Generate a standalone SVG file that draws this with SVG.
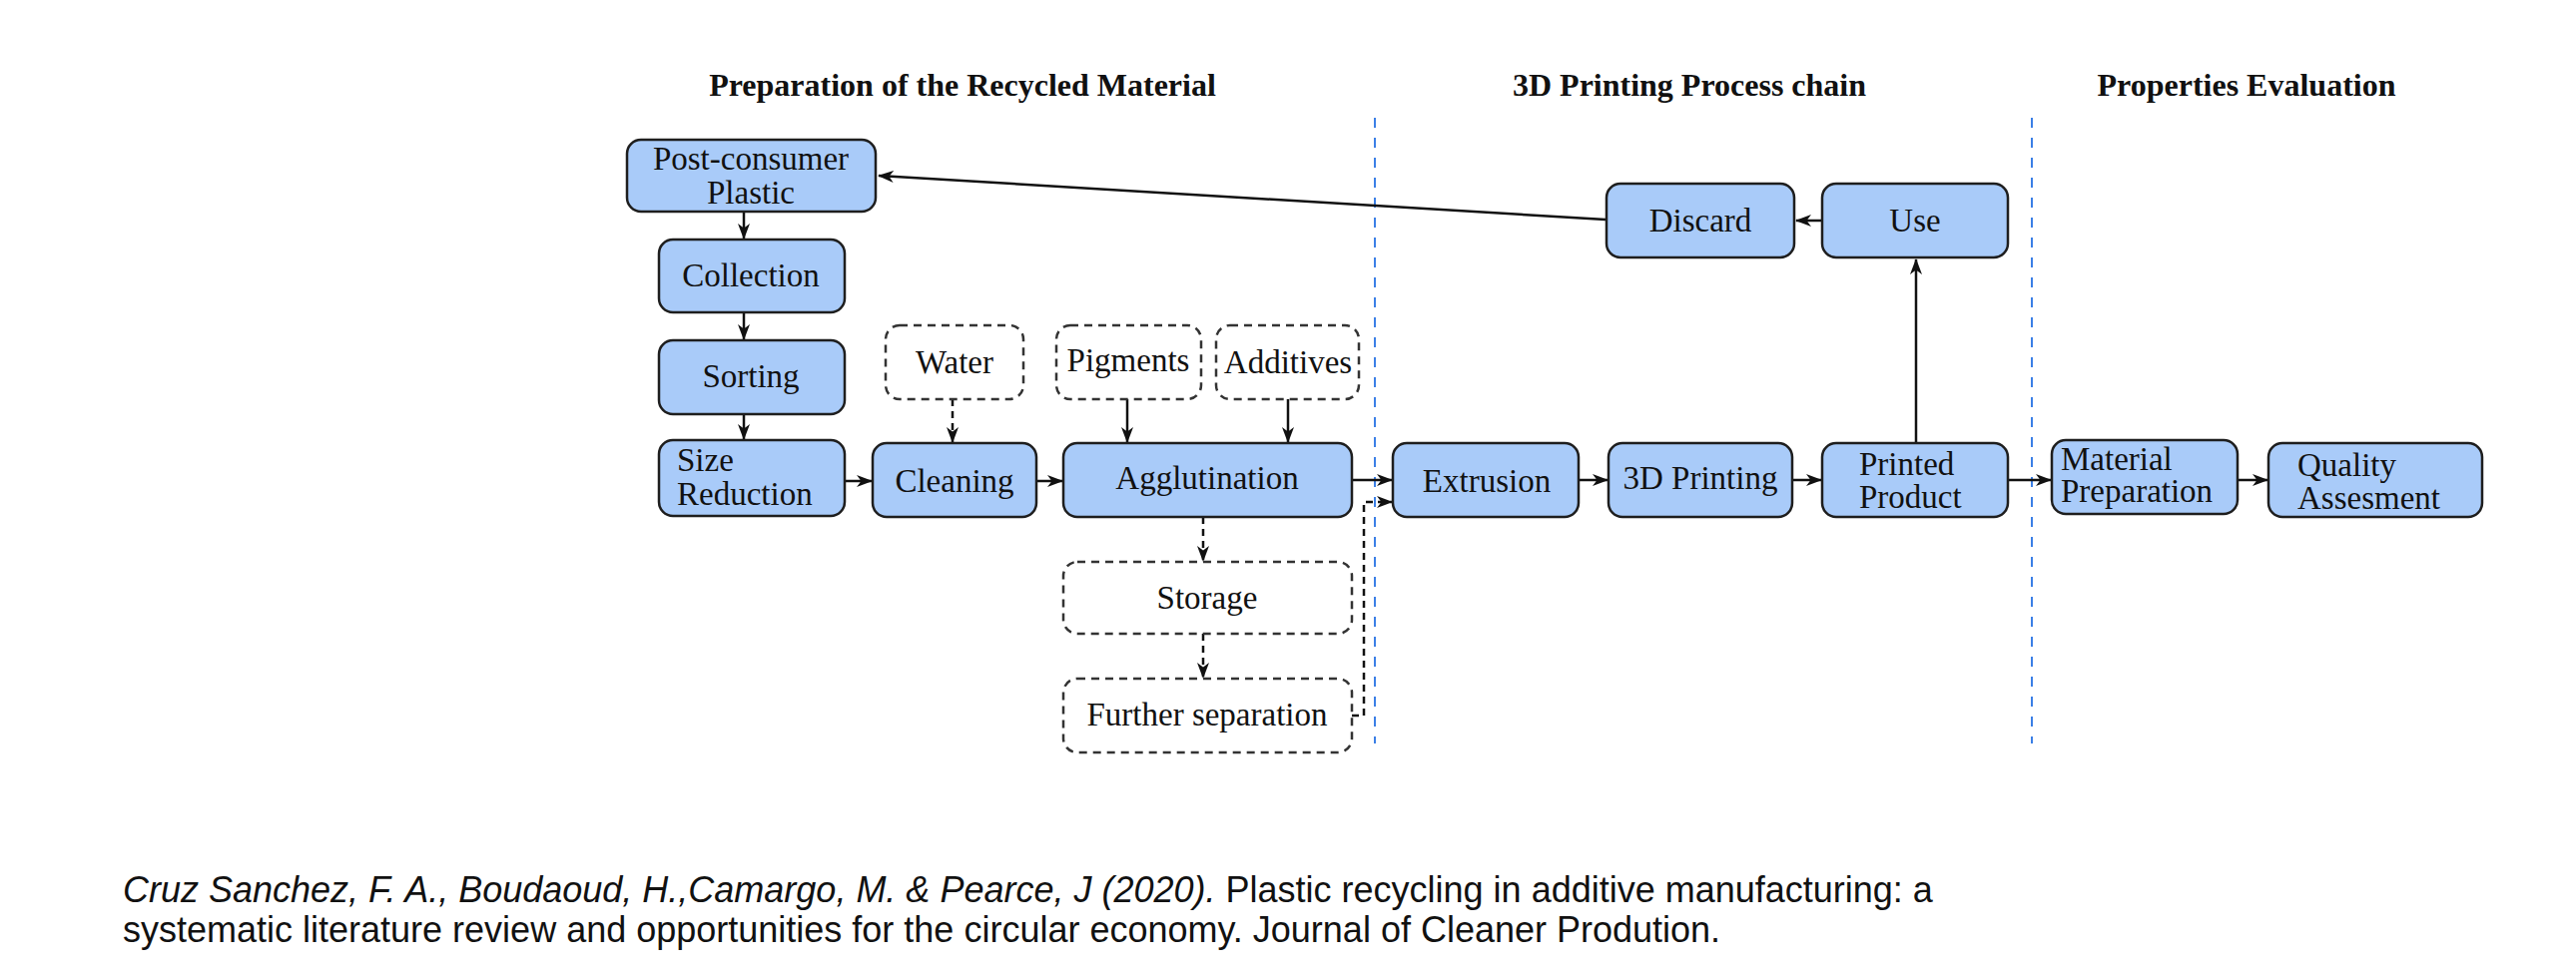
<svg xmlns="http://www.w3.org/2000/svg" width="2580" height="980" viewBox="0 0 2580 980">
<style>
.n{fill:#a9cbf9;stroke:#1e1e1e;stroke-width:2.5}
.d{fill:#ffffff;stroke:#333;stroke-width:2.5;stroke-dasharray:8,6}
.t{font-family:"Liberation Serif",serif;font-size:33px;fill:#111}
.h{font-family:"Liberation Serif",serif;font-size:32px;font-weight:bold;fill:#111}
.c{stroke:#111;stroke-width:2.5;fill:none}
.cd{stroke:#111;stroke-width:2.5;fill:none;stroke-dasharray:7,5}
.v{stroke:#3b7fe6;stroke-width:2;stroke-dasharray:10,10}
.cit{font-family:"Liberation Sans",sans-serif;font-size:36px;fill:#111}
</style>
<defs>
<marker id="a" viewBox="0 0 16 12" refX="15" refY="6" markerWidth="16" markerHeight="12" markerUnits="userSpaceOnUse" orient="auto">
<path d="M0,0 L16,6 L0,12 L4.5,6 z" fill="#111"/>
</marker>
</defs>
<rect width="2580" height="980" fill="#ffffff"/>
<g id="titles">
<text class="h" x="964" y="96" text-anchor="middle">Preparation of the Recycled Material</text>
<text class="h" x="1692" y="96" text-anchor="middle">3D Printing Process chain</text>
<text class="h" x="2250" y="96" text-anchor="middle">Properties Evaluation</text>
</g>
<g id="separators">
<line class="v" x1="1377" y1="118" x2="1377" y2="745"/>
<line class="v" x1="2035" y1="118" x2="2035" y2="745"/>
</g>
<g id="connectors">
<line class="c" x1="1608" y1="220" x2="880" y2="176" marker-end="url(#a)"/>
<line class="c" x1="1825" y1="221" x2="1799" y2="221" marker-end="url(#a)"/>
<line class="c" x1="1919" y1="444" x2="1919" y2="260" marker-end="url(#a)"/>
<line class="c" x1="745" y1="212" x2="745" y2="239" marker-end="url(#a)"/>
<line class="c" x1="745" y1="313" x2="745" y2="340" marker-end="url(#a)"/>
<line class="c" x1="745" y1="415" x2="745" y2="440" marker-end="url(#a)"/>
<line class="c" x1="846" y1="482" x2="873" y2="482" marker-end="url(#a)"/>
<line class="c" x1="1038" y1="482" x2="1064" y2="482" marker-end="url(#a)"/>
<line class="cd" x1="954" y1="400" x2="954" y2="443" marker-end="url(#a)"/>
<line class="c" x1="1129" y1="400" x2="1129" y2="443" marker-end="url(#a)"/>
<line class="c" x1="1290" y1="400" x2="1290" y2="443" marker-end="url(#a)"/>
<line class="c" x1="1354" y1="481" x2="1394" y2="481" marker-end="url(#a)"/>
<line class="cd" x1="1205" y1="518" x2="1205" y2="562" marker-end="url(#a)"/>
<line class="cd" x1="1205" y1="635" x2="1205" y2="679" marker-end="url(#a)"/>
<path class="cd" d="M1354,717 L1366,717 L1366,503 L1394,503" marker-end="url(#a)"/>
<line class="c" x1="1581" y1="481" x2="1610" y2="481" marker-end="url(#a)"/>
<line class="c" x1="1795" y1="481" x2="1824" y2="481" marker-end="url(#a)"/>
<line class="c" x1="2011" y1="481" x2="2054" y2="481" marker-end="url(#a)"/>
<line class="c" x1="2241" y1="481" x2="2271" y2="481" marker-end="url(#a)"/>
</g>
<g id="post-consumer"><rect class="n" x="628" y="140" width="249" height="72" rx="14"/><text class="t" x="752" y="170" text-anchor="middle">Post-consumer</text><text class="t" x="752" y="204" text-anchor="middle">Plastic</text></g>
<g id="collection"><rect class="n" x="660" y="240" width="186" height="73" rx="14"/><text class="t" x="752" y="287" text-anchor="middle">Collection</text></g>
<g id="sorting"><rect class="n" x="660" y="341" width="186" height="74" rx="14"/><text class="t" x="752" y="388" text-anchor="middle">Sorting</text></g>
<g id="size-reduction"><rect class="n" x="660" y="441" width="186" height="76" rx="14"/><text class="t" x="678" y="472">Size</text><text class="t" x="678" y="506">Reduction</text></g>
<g id="cleaning"><rect class="n" x="874" y="444" width="164" height="74" rx="14"/><text class="t" x="956" y="493" text-anchor="middle">Cleaning</text></g>
<g id="agglutination"><rect class="n" x="1065" y="444" width="289" height="74" rx="14"/><text class="t" x="1209" y="490" text-anchor="middle">Agglutination</text></g>
<g id="water"><rect class="d" x="887" y="326" width="138" height="74" rx="14"/><text class="t" x="956" y="374" text-anchor="middle">Water</text></g>
<g id="pigments"><rect class="d" x="1058" y="326" width="145" height="74" rx="14"/><text class="t" x="1130" y="372" text-anchor="middle">Pigments</text></g>
<g id="additives"><rect class="d" x="1218" y="326" width="143" height="74" rx="14"/><text class="t" x="1290" y="374" text-anchor="middle">Additives</text></g>
<g id="storage"><rect class="d" x="1065" y="563" width="289" height="72" rx="14"/><text class="t" x="1209" y="610" text-anchor="middle">Storage</text></g>
<g id="further-separation"><rect class="d" x="1065" y="680" width="289" height="74" rx="14"/><text class="t" x="1209" y="727" text-anchor="middle">Further separation</text></g>
<g id="extrusion"><rect class="n" x="1395" y="444" width="186" height="74" rx="14"/><text class="t" x="1489" y="493" text-anchor="middle">Extrusion</text></g>
<g id="printing"><rect class="n" x="1611" y="444" width="184" height="74" rx="14"/><text class="t" x="1703" y="490" text-anchor="middle">3D Printing</text></g>
<g id="printed-product"><rect class="n" x="1825" y="444" width="186" height="74" rx="14"/><text class="t" x="1862" y="476">Printed</text><text class="t" x="1862" y="509">Product</text></g>
<g id="material-preparation"><rect class="n" x="2055" y="441" width="186" height="74" rx="14"/><text class="t" x="2064" y="471">Material</text><text class="t" x="2064" y="503">Preparation</text></g>
<g id="quality"><rect class="n" x="2272" y="444" width="214" height="74" rx="14"/><text class="t" x="2301" y="477">Quality</text><text class="t" x="2301" y="510">Assesment</text></g>
<g id="discard"><rect class="n" x="1609" y="184" width="188" height="74" rx="14"/><text class="t" x="1703" y="232" text-anchor="middle">Discard</text></g>
<g id="use"><rect class="n" x="1825" y="184" width="186" height="74" rx="14"/><text class="t" x="1918" y="232" text-anchor="middle">Use</text></g>
<g id="citation">
<text class="cit" x="123" y="904"><tspan font-style="italic">Cruz Sanchez, F. A., Boudaoud, H.,Camargo, M. &amp; Pearce, J (2020).</tspan> Plastic recycling in additive manufacturing: a</text>
<text class="cit" x="123" y="944">systematic literature review and opportunities for the circular economy. Journal of Cleaner Prodution.</text>
</g>
</svg>
